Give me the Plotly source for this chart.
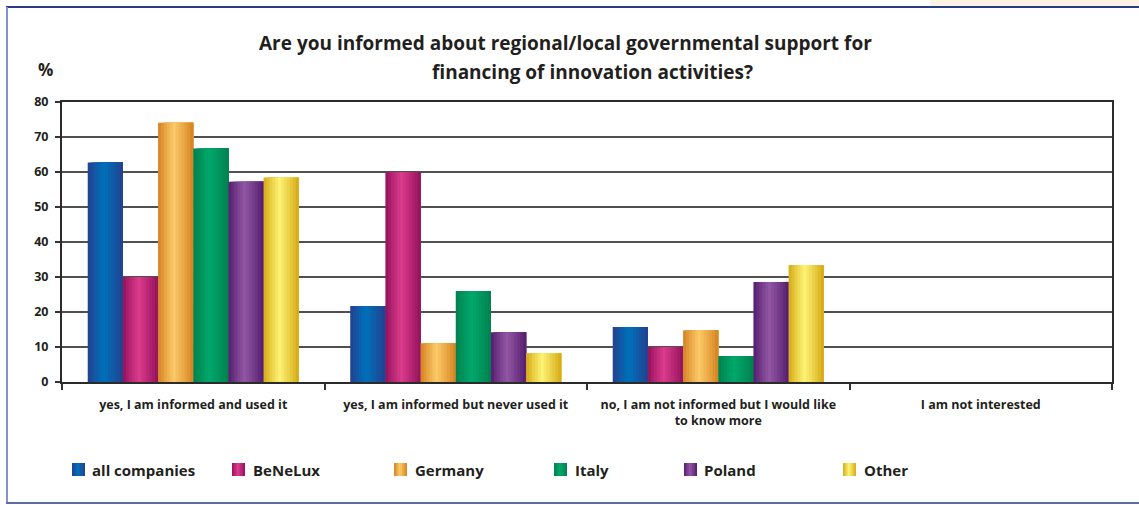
import plotly.graph_objects as go

# ---- data -------------------------------------------------------------
categories = [
    "yes, I am informed and used it",
    "yes, I am informed but never used it",
    "no, I am not informed but I would like<br>to know more",
    "I am not interested",
]
series_names = ["all companies", "BeNeLux", "Germany", "Italy", "Poland", "Other"]
all_companies = [62.7, 21.7, 15.7, 0]
benelux = [30.0, 60.0, 9.9, 0]
germany = [74.1, 11.1, 14.8, 0]
italy = [66.7, 26.0, 7.4, 0]
poland = [57.2, 14.2, 28.6, 0]
other = [58.4, 8.2, 33.4, 0]
y_ticks = [0, 10, 20, 30, 40, 50, 60, 70, 80]

series_values = [all_companies, benelux, germany, italy, poland, other]

# ---- styling ----------------------------------------------------------
# (edge colour, highlight colour) for the cylinder-like shading of each series
shades = [
    ("#243f8d", "#0070ba"),
    ("#90105a", "#dc3c8c"),
    ("#d4801f", "#fcca68"),
    ("#007f4e", "#00a86b"),
    ("#531b6d", "#9157a3"),
    ("#d4a712", "#fdf374"),
]
FONT = "'Open Sans', sans-serif"
TEXT = "#231f20"

W, H = 1139, 505
L, R, T, B = 62, 27, 102, 123
PW, PH = W - L - R, H - T - B


def px(x):
    return (x - L) / PW


def py(y):
    return (H - B - y) / PH


def hex2rgb(h):
    h = h.lstrip("#")
    return tuple(int(h[k:k + 2], 16) for k in (0, 2, 4))


def mix(c1, c2, t):
    a, b = hex2rgb(c1), hex2rgb(c2)
    return "rgb(%d,%d,%d)" % tuple(round(a[k] + (b[k] - a[k]) * t) for k in range(3))


def shade_profile(n):
    """Light weight per strip: dark edges, bright just left of centre."""
    out = []
    for j in range(n):
        t = (j + 0.5) / n
        peak = 0.45
        d = abs(t - peak) / (peak if t < peak else 1 - peak)
        out.append(max(0.0, 1 - d) ** 0.9)
    return out


fig = go.Figure()

GROUP_SPAN = 0.804
n_series = len(series_names)
bar_w = GROUP_SPAN / n_series
STRIPS = 12
profile = shade_profile(STRIPS)

# Each bar is painted as stacked-over strips: every strip runs from its own
# left edge to the bar's right edge, so later strips cover earlier ones and
# no seams are left between them.
for i, (name, vals) in enumerate(zip(series_names, series_values)):
    dark, light = shades[i]
    start = -GROUP_SPAN / 2 + i * bar_w
    for j in range(STRIPS):
        left = j * bar_w / STRIPS
        fig.add_trace(go.Bar(
            x=categories,
            y=vals,
            name=name,
            legendgroup=name,
            showlegend=False,
            offset=start + left,
            width=bar_w - left,
            marker=dict(color=mix(dark, light, profile[j]), line=dict(width=0)),
            hovertemplate=name + ": %{y}%<extra></extra>",
        ))

# ---- legend row -------------------------------------------------------
legend_swatch_x = [72, 232, 394, 554, 684, 843]
legend_text_x = [90, 251, 413, 573, 702, 862]
shapes = []
annotations = []
SW = 13
sw_strips = 8
sw_prof = shade_profile(sw_strips)
for i, name in enumerate(series_names):
    dark, light = shades[i]
    x0 = legend_swatch_x[i]
    for j in range(sw_strips):
        shapes.append(dict(
            type="rect", xref="paper", yref="paper",
            x0=px(x0 + j * SW / sw_strips), x1=px(x0 + SW),
            y0=py(476), y1=py(463),
            fillcolor=mix(dark, light, sw_prof[j]), line=dict(width=0), layer="above",
        ))
    annotations.append(dict(
        text=name, xref="paper", yref="paper", x=px(legend_text_x[i]), y=py(470),
        xanchor="left", yanchor="middle", showarrow=False,
        font=dict(family=FONT, size=15, color=TEXT, weight="bold"),
    ))

# ---- titles ----------------------------------------------------------
annotations += [
    dict(text="Are you informed about regional/local governmental support for",
         xref="paper", yref="paper", x=px(565), y=py(43), xanchor="center", yanchor="middle",
         showarrow=False, font=dict(family=FONT, size=19, color=TEXT, weight="bold")),
    dict(text="financing of innovation activities?",
         xref="paper", yref="paper", x=px(592), y=py(72), xanchor="center", yanchor="middle",
         showarrow=False, font=dict(family=FONT, size=19, color=TEXT, weight="bold")),
    dict(text="%", xref="paper", yref="paper", x=px(45), y=py(69), xanchor="center",
         yanchor="middle", showarrow=False,
         font=dict(family=FONT, size=17, color=TEXT, weight="bold")),
]

# ---- outer frame -------------------------------------------------------
shapes += [
    dict(type="rect", xref="paper", yref="paper", x0=px(930), x1=px(1139), y0=py(6), y1=py(0),
         fillcolor="#fdf0dc", opacity=0.7, line=dict(width=0), layer="below"),
    dict(type="line", xref="paper", yref="paper", x0=px(6), x1=px(1139), y0=py(7), y1=py(7),
         line=dict(color="#2b3d80", width=2)),
    dict(type="line", xref="paper", yref="paper", x0=px(7), x1=px(7), y0=py(7), y1=py(503),
         line=dict(color="#8393d2", width=2)),
    dict(type="line", xref="paper", yref="paper", x0=px(6), x1=px(1139), y0=py(503), y1=py(503),
         line=dict(color="#5a6da8", width=2)),
]

fig.update_layout(
    width=W, height=H,
    margin=dict(l=L, r=R, t=T, b=B),
    paper_bgcolor="white", plot_bgcolor="white",
    barmode="overlay",
    showlegend=False,
    font=dict(family=FONT, color=TEXT),
    shapes=shapes,
    annotations=annotations,
)

fig.update_xaxes(
    type="category",
    tickson="boundaries",
    ticks="outside", ticklen=6, tickcolor="#333", tickwidth=1.5,
    showline=True, linecolor="#2b2b2b", linewidth=2, mirror=True,
    showgrid=False,
    ticklabelstandoff=10,
    tickfont=dict(family=FONT, size=12.5, color=TEXT, weight="bold"),
)
fig.update_yaxes(
    range=[0, 80], tickvals=y_ticks,
    ticks="outside", ticklen=5, tickcolor="#333", tickwidth=1.5,
    showline=True, linecolor="#2b2b2b", linewidth=2, mirror=True,
    showgrid=True, gridcolor="#505050", gridwidth=1.5,
    zeroline=False,
    ticklabelstandoff=4,
    tickfont=dict(family=FONT, size=12.5, color=TEXT, weight="bold"),
)

fig.write_html("out.html")
